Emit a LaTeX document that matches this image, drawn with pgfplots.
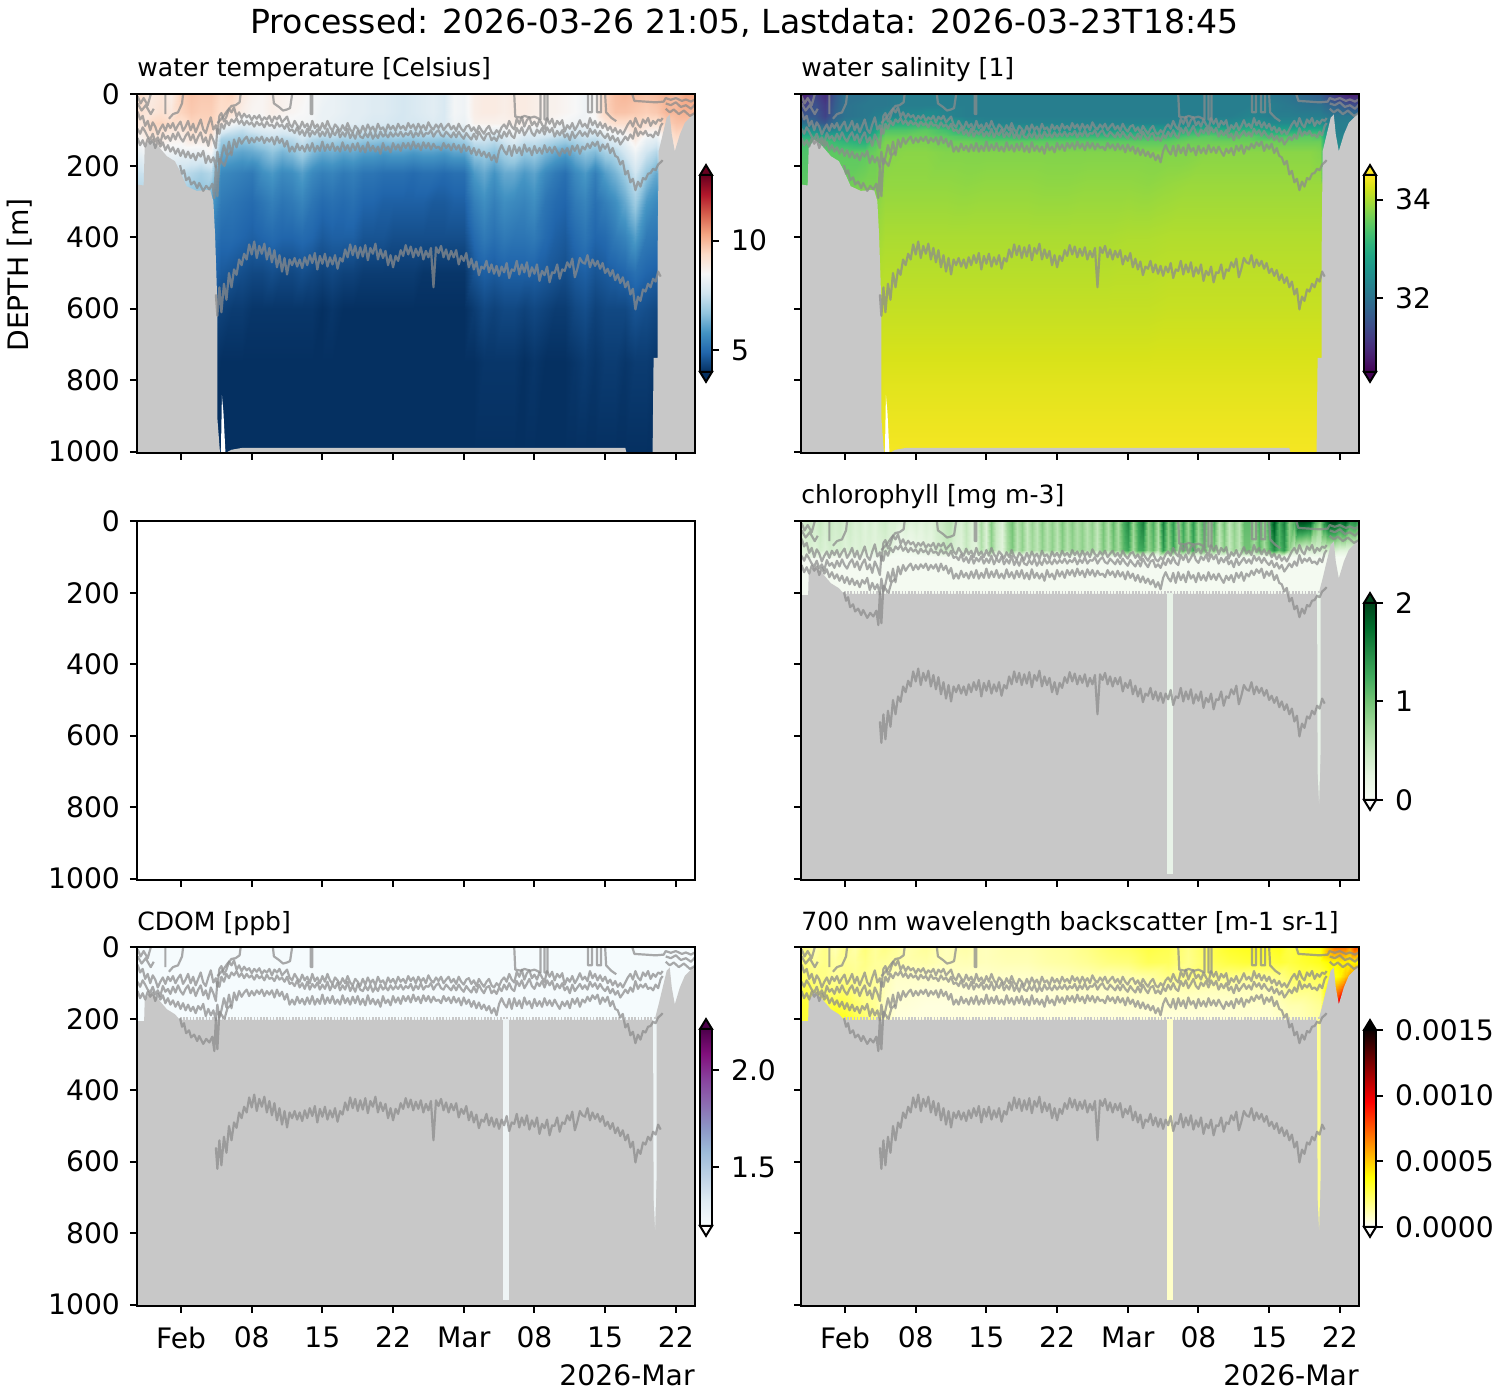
\documentclass[border=0pt]{standalone}
\usepackage{pgfplots}
\usepackage{pgfplotstable}
\usepackage{fontspec}
\setmainfont{DejaVu Sans}
\pgfplotsset{compat=1.18}
\definecolor{mk}{HTML}{C8C8C8}
\pgfplotsset{
 colormap={rdbu}{rgb255=(5,48,97) rgb255=(33,102,172) rgb255=(67,147,195) rgb255=(146,197,222) rgb255=(209,229,240) rgb255=(247,247,247) rgb255=(253,219,199) rgb255=(244,165,130) rgb255=(214,96,77) rgb255=(178,24,43) rgb255=(103,0,31)},
 colormap={grn}{rgb255=(247,252,245) rgb255=(229,245,224) rgb255=(199,233,192) rgb255=(161,217,155) rgb255=(116,196,118) rgb255=(65,171,93) rgb255=(35,139,69) rgb255=(0,109,44) rgb255=(0,68,27)},
 colormap={bupu}{rgb255=(247,252,253) rgb255=(224,236,244) rgb255=(191,211,230) rgb255=(158,188,218) rgb255=(140,150,198) rgb255=(140,107,177) rgb255=(136,65,157) rgb255=(129,15,124) rgb255=(77,0,75)},
 colormap={hotr}{rgb255(0pt)=(255,255,255) rgb255(254pt)=(255,255,0) rgb255(635pt)=(255,0,0) rgb255(1000pt)=(10,0,0)},
}
% ---------- temperature: day, then one column per depth
\pgfplotstableread{
day 0 50 80 100 125 160 220 300 400 500 600 750 1004
-5 9.0 9.0 9.0 8.8 8.6 8.2 7.5 7 6 5 4.5 4 4
-4 9.3 9.2 9.0 8.9 8.6 8.2 7.5 7 6 5 4.5 4 4
-3 8.9 9.0 9.4 9.3 9.0 8.6 7.6 7 6 5 4.5 4 4
-2 9.1 9.2 9.5 9.2 8.9 8.4 7.6 7 6 5 4.5 4 4
-1 8.8 9.0 9.3 9.0 8.7 8.3 7.6 7 6 5 4.5 4 4
0 9.6 9.5 9.2 9.0 8.7 8.2 7.4 6.9 6 5 4.5 4 4
1 9.8 9.7 9.5 9.3 9.0 8.2 7.2 6.5 6 5 4.5 4 4
2 9.7 9.6 9.5 9.2 8.9 8.2 7.0 6.5 6 5 4.5 4 4
3 9.7 9.6 9.5 9.4 9.0 8.5 7.2 6.0 5.4 5.0 4.6 4.1 4
4 9.4 9.3 8.9 8.0 7.0 6.3 5.6 5.3 5.0 4.7 4.3 4.0 4
5 9.5 9.2 8.5 7.6 6.9 6.2 5.5 5.2 5.0 4.6 4.2 4.0 4
6 9.0 8.8 8.2 7.4 6.8 6.1 5.4 5.1 4.9 4.5 4.2 4.0 4
7 8.7 8.6 8.3 7.7 6.9 6.2 5.3 5.0 4.8 4.4 4.1 4 4
8 8.6 8.6 8.4 7.9 7.2 6.4 5.7 5.2 4.9 4.4 4.1 4 4
9 8.8 8.8 8.5 8.0 7.4 6.7 5.9 5.4 5.0 4.5 4.1 4 4
10 8.7 8.7 8.4 7.9 7.2 6.4 5.6 5.2 4.9 4.4 4.1 4 4
11 8.6 8.6 8.4 8.0 7.3 6.6 5.7 5.3 4.9 4.4 4.1 4 4
12 8.6 8.5 8.4 8.1 7.6 7.0 6.0 5.5 5.0 4.5 4.1 4 4
13 8.4 8.4 8.3 7.9 7.2 6.5 5.6 5.2 4.9 4.4 4.1 4 4
14 8.3 8.2 8.2 7.9 7.0 6.2 5.4 5.0 4.7 4.3 4.0 4 4
15 8.2 8.2 8.1 7.8 7.1 6.3 5.5 5.1 4.8 4.4 4.1 4 4
16 8.1 8.1 8.0 7.7 6.9 6.1 5.3 5.0 4.8 4.3 4.0 4 4
17 8.0 8.0 8.0 7.7 7.0 6.2 5.4 5.1 4.8 4.3 4.0 4 4
18 8.0 8.0 7.9 7.6 6.8 6.0 5.2 4.9 4.6 4.2 4.0 4 4
19 7.9 7.9 7.8 7.5 6.8 6.0 5.2 4.9 4.6 4.2 4.0 4 4
20 7.9 7.9 7.8 7.4 6.7 5.9 5.1 4.8 4.6 4.2 4.0 4 4
21 7.8 7.8 7.7 7.4 6.8 6.0 5.1 4.8 4.5 4.2 4.0 4 4
22 7.7 7.7 7.7 7.5 6.7 6.0 5.1 4.8 4.5 4.2 4.0 4 4
23 7.8 7.8 7.7 7.4 6.7 5.9 5.0 4.8 4.5 4.2 4.0 4 4
24 7.9 7.9 7.8 7.5 6.8 6.0 5.1 4.8 4.5 4.1 4.0 4 4
25 8.0 8.0 7.9 7.5 6.8 6.0 5.1 4.7 4.5 4.1 4.0 4 4
26 7.8 7.8 7.8 7.5 6.7 5.9 5.0 4.7 4.5 4.1 4.0 4 4
27 8.4 8.4 8.3 7.8 6.9 6.1 5.1 4.8 4.5 4.1 4.0 4 4
28 8.3 8.3 8.2 7.8 7.0 6.1 5.1 4.8 4.5 4.1 4.0 4 4
29 8.8 8.8 8.7 8.2 7.6 6.8 5.9 5.4 5.0 4.6 4.2 4 4
30 8.9 8.9 8.7 8.3 7.6 6.9 6.2 5.7 5.3 4.8 4.4 4.1 4
31 8.9 8.9 8.7 8.2 7.4 6.6 5.8 5.4 5.1 4.7 4.3 4.1 4
32 8.8 8.8 8.7 8.3 7.7 7.0 6.2 5.7 5.3 4.8 4.4 4.1 4
33 8.9 8.9 8.8 8.5 8.0 7.2 6.2 5.6 5.2 4.8 4.4 4.1 4
34 8.9 8.9 8.7 8.3 7.6 6.8 5.9 5.5 5.2 4.8 4.3 4 4
35 8.8 8.8 8.7 8.2 7.6 6.9 6.1 5.7 5.3 4.8 4.4 4.1 4
36 8.7 8.7 8.6 8.2 7.4 6.5 5.6 5.2 5.0 4.7 4.3 4 4
37 8.7 8.7 8.5 8.1 7.2 6.2 5.3 5.0 4.8 4.6 4.2 4 4
38 8.6 8.6 8.4 7.9 7.0 6.0 5.1 4.9 4.7 4.5 4.2 4 4
39 8.5 8.5 8.3 7.8 7.2 6.4 5.6 5.3 5.0 4.7 4.4 4.1 4
40 8.3 8.3 8.3 7.9 7.4 6.7 5.9 5.5 5.2 4.8 4.5 4.2 4
41 8.6 8.6 8.4 8.0 7.3 6.5 5.4 5.1 4.9 4.6 4.3 4.1 4
42 9.5 9.5 9.0 8.4 7.7 7.0 6.0 5.4 5.0 4.7 4.4 4.2 4
43 9.9 9.8 9.3 8.7 8.0 7.2 6.4 5.7 5.3 4.8 4.4 4.2 4
44 10.0 9.8 9.3 8.8 8.3 7.7 6.9 6.2 5.5 4.9 4.4 4.1 4
45 9.9 9.7 9.4 9.2 8.9 8.3 7.6 6.9 6.0 5.1 4.6 4.2 4
46 9.8 9.6 9.2 8.8 8.2 7.6 6.8 5.9 5.3 4.9 4.5 4.2 4
47 9.9 9.7 9.2 8.7 8.0 7.2 6.2 5.6 5.2 4.8 4.4 4.1 4
48 10.1 10.0 9.6 9.3 9.0 8.5 7 6 5 5 4 4 4
49 9.9 10.0 9.8 9.6 9.3 9.0 8 6 5 5 4 4 4
50 10.3 10.1 9.8 9.5 9 9 8 6 5 5 4 4 4
51 10.2 10.0 9.7 9.4 9 9 8 6 5 5 4 4 4
}\Ttemp
% ---------- salinity
\pgfplotstableread{
day 0 30 60 80 100 115 130 160 250 400 600 800 1004
-5 30.8 31.3 31.6 32.0 32.6 33.0 33.3 33.4 33.5 33.9 34.1 34.3 34.4
-4 30.8 31.3 31.6 32.0 32.6 33.0 33.3 33.4 33.5 33.9 34.1 34.3 34.4
-3 31.3 31.5 31.6 31.8 32.5 33.0 33.3 33.4 33.5 33.9 34.1 34.3 34.4
-2 31.0 31.2 31.3 31.6 32.2 32.9 33.3 33.5 33.6 33.9 34.1 34.3 34.4
-1 31.6 31.7 31.8 32.0 32.4 32.9 33.2 33.5 33.6 33.9 34.1 34.3 34.4
0 32.0 32.0 32.0 32.2 32.5 32.8 33.1 33.5 33.6 33.9 34.1 34.3 34.4
2 32.0 32.1 32.1 32.2 32.4 32.7 33.0 33.5 33.7 33.9 34.1 34.3 34.4
3 32.1 32.1 32.2 32.4 32.8 33.1 33.4 33.6 33.7 33.9 34.1 34.3 34.4
4 32.1 32.1 32.3 32.9 33.4 33.6 33.7 33.75 33.85 34.0 34.15 34.32 34.45
6 32.2 32.2 32.4 33.0 33.4 33.6 33.7 33.8 33.85 34.0 34.15 34.32 34.45
8 32.2 32.2 32.5 33.1 33.5 33.6 33.7 33.8 33.85 34.0 34.15 34.32 34.45
10 32.2 32.2 32.3 32.8 33.3 33.5 33.6 33.75 33.85 34.0 34.15 34.32 34.45
12 32.2 32.2 32.2 32.4 33.0 33.4 33.6 33.75 33.83 34.0 34.15 34.32 34.45
14 32.2 32.2 32.2 32.3 32.8 33.3 33.5 33.75 33.85 34.0 34.15 34.32 34.45
16 32.2 32.2 32.2 32.3 32.7 33.2 33.5 33.75 33.85 34.0 34.15 34.32 34.45
18 32.2 32.2 32.2 32.3 32.6 33.1 33.5 33.75 33.85 34.0 34.15 34.32 34.45
20 32.2 32.2 32.2 32.3 32.7 33.2 33.5 33.75 33.83 34.0 34.15 34.32 34.45
22 32.2 32.2 32.2 32.3 32.6 33.2 33.5 33.75 33.83 34.0 34.15 34.32 34.45
24 32.2 32.2 32.2 32.3 32.7 33.2 33.5 33.75 33.85 34.0 34.15 34.32 34.45
26 32.2 32.2 32.2 32.3 32.7 33.2 33.5 33.75 33.85 34.0 34.15 34.32 34.45
28 32.2 32.2 32.2 32.3 32.8 33.2 33.5 33.75 33.85 34.02 34.15 34.32 34.45
30 32.2 32.2 32.2 32.3 32.8 33.2 33.5 33.75 33.83 34.02 34.15 34.32 34.45
32 32.2 32.2 32.2 32.3 32.7 33.2 33.5 33.75 33.87 34.04 34.17 34.32 34.45
34 32.2 32.2 32.2 32.4 33.0 33.4 33.6 33.75 33.9 34.04 34.17 34.32 34.45
36 32.2 32.2 32.2 32.5 33.1 33.5 33.6 33.8 33.9 34.04 34.17 34.32 34.45
38 32.2 32.2 32.2 32.4 33.0 33.4 33.6 33.8 33.9 34.04 34.17 34.32 34.45
40 32.2 32.2 32.3 32.6 33.1 33.5 33.6 33.8 33.9 34.04 34.17 34.32 34.45
42 32.1 32.2 32.2 32.4 32.9 33.3 33.6 33.8 33.9 34.04 34.17 34.32 34.45
44 32.0 32.1 32.2 32.4 32.9 33.4 33.6 33.8 33.9 34.04 34.17 34.32 34.45
46 31.8 32.0 32.2 32.5 33.0 33.5 33.6 33.8 33.9 34.04 34.17 34.32 34.45
47 31.7 32.0 32.2 32.5 33.0 33.4 33.6 33.75 33.9 34.04 34.17 34.32 34.45
48 31.3 31.8 32.1 32.2 32.3 32.3 32.3 32.3 33.8 34 34.2 34.3 34.4
49 31.0 31.7 32.1 32.2 32.2 32.3 32.4 32.5 33.8 34 34.2 34.3 34.4
50 30.8 31.5 32.1 32.2 32.2 32.3 32.4 32.5 33.8 34 34.2 34.3 34.4
51 30.8 31.4 32.0 32.2 32.2 32.3 32.4 32.5 33.8 34 34.2 34.3 34.4
}\Tsal
% ---------- chlorophyll, top 100 m
\pgfplotstableread{
day 0 80 100
-5 .4 .35 .2
-4.5 .35 .3 .2
-4 .4 .3 .15
-3.5 .45 .35 .2
-3 .4 .3 .15
-2.5 .5 .4 .15
-2 .38 .32 .1
-1.5 .5 .4 .15
-1 .4 .35 .1
-.5 .45 .38 .12
0 .35 .3 .1
.5 .45 .36 .1
1 .35 .3 .1
1.5 .4 .35 .1
2 .3 .3 .08
2.5 .38 .32 .1
3 .3 .28 .1
3.5 .4 .3 .1
4 .45 .35 .04
4.5 .35 .3 .04
5 .35 .1 .04
5.5 .3 .08 .04
6 .38 .1 .04
6.5 .3 .12 .04
7 .35 .2 .04
7.5 .28 .2 .04
8 .35 .25 .04
8.5 .3 .24 .04
9 .4 .35 .05
9.5 .45 .4 .05
10 .55 .5 .05
10.5 .6 .4 .04
11 .4 .32 .04
11.5 .35 .3 .04
12 .55 .5 .04
12.5 .35 .32 .04
13 .3 .28 .04
13.5 .7 .65 .05
14 .35 .32 .04
14.5 .9 .85 .05
15 .5 .45 .04
15.5 .3 .28 .04
16 .75 .7 .05
16.5 1.0 .95 .05
17 .6 .55 .05
17.5 .85 .85 .05
18 .5 .5 .04
18.5 .8 .75 .05
19 .55 .55 .04
19.5 .9 .85 .05
20 .6 .6 .05
20.5 .85 .85 .05
21 .6 .55 .04
21.5 .95 .9 .05
22 .65 .6 .05
22.5 .9 .85 .05
23 .65 .65 .05
23.5 .85 .85 .05
24 .6 .6 .04
24.5 .85 .8 .05
25 .55 .5 .04
25.5 1.0 .95 .05
26 .65 .6 .05
26.5 1.1 1.0 .05
27 .7 .7 .05
27.5 1.2 1.1 .05
28 1.5 1.3 .06
28.5 .8 .7 .05
29 1.3 1.2 .05
29.5 1.6 1.3 .05
30 .85 .8 .05
30.5 1.2 1.1 .05
31 .7 .6 .05
31.5 1.6 1.4 .06
32 .9 .8 .05
32.5 1.4 1.3 .05
33 .75 .7 .05
33.5 1.3 1.2 .06
34 .8 .8 .06
34.5 1.4 1.3 .06
35 .8 .7 .05
35.5 1.3 1.1 .05
36 .7 .6 .05
36.5 1.2 1.0 .05
37 .6 .5 .05
37.5 1.0 .9 .05
38 .55 .5 .05
38.5 .85 .8 .05
39 .6 .55 .04
39.5 1.1 1.0 .05
40 1.1 1.0 .05
40.5 .8 .7 .05
41 1.2 1.1 .05
41.5 .8 .7 .05
42 1.3 1.1 .05
42.5 1.9 1.5 .05
43 1.2 1.1 .05
43.5 1.6 1.4 .05
44 .9 .8 .05
44.5 1.2 .5 .04
45 2.0 .4 .04
45.5 2.0 .3 .04
46 1.9 .4 .04
46.5 1.2 .4 .04
47 .9 .4 .04
47.5 1.6 .4 .04
48 2.0 .4 .04
48.5 2.0 .4 .04
49 1.7 .3 .04
49.5 1.9 .3 .04
50 1.4 .3 .04
50.5 1.5 .3 .04
51 1.2 .3 .04
}\Tchl
% ---------- backscatter
\pgfplotstableread{
day 0 40 80 120 160 205
-5 .00017 .0002 .00026 .0003 .0003 .0003
-4 .00018 .0002 .00022 .00028 .0003 .0003
-3 .00012 .00015 .00018 .00022 .00025 .0003
-2 .00018 .00018 .00018 .00022 .00028 .0003
-1 .00011 .00014 .00015 .0002 .0003 .00035
0 .00018 .00016 .00018 .00022 .00028 .00035
1 .00013 .00015 .00016 .00018 .00022 .00028
2 .0002 .00018 .00016 .00016 .00018 .00022
3 .00015 .00015 .00015 .00015 .00016 .00018
4 .00018 .00015 .00011 .0001 .00008 .0001
5 .00015 .00014 .00008 .00007 .00006 .00005
6 .00012 .00012 .00008 .00007 .00006 .00005
8 .00015 .00013 .00008 .00006 .00005 .00005
10 .0001 .0001 .00008 .00006 .00005 .00005
12 .00013 .00011 .00008 .00006 .00005 .00005
14 .0001 .0001 .00008 .00006 .00005 .00005
16 .00012 .00011 .00008 .00006 .00005 .00005
18 .00012 .00011 .00008 .00006 .00005 .00005
20 .00014 .00013 .00009 .00006 .00005 .00005
22 .00015 .00014 .0001 .00008 .00006 .00005
24 .00018 .00016 .00011 .00008 .00006 .00005
26 .00022 .00019 .00011 .00008 .00006 .00005
28 .00024 .0002 .00012 .00009 .00007 .00005
30 .00028 .00025 .00014 .00009 .00007 .00005
32 .00026 .00024 .00018 .0001 .00007 .00005
34 .00018 .00017 .00018 .00011 .00007 .00005
36 .00026 .00024 .00018 .0001 .00007 .00005
38 .00032 .00028 .00018 .0001 .00007 .00006
40 .00034 .0003 .00016 .0001 .00008 .00006
42 .00032 .00028 .00016 .0001 .00008 .00006
43 .00034 .0003 .00018 .00012 .0001 .00007
44 .00028 .00028 .00022 .00016 .00012 .00009
45 .0003 .0003 .00025 .00018 .00012 .0001
46 .00035 .00032 .00024 .00018 .00014 .00012
47 .00036 .00034 .00026 .0002 .00016 .00014
48 .0006 .0004 .00035 .0005 .0007 .0010
48.5 .0007 .00038 .00035 .0006 .0009 .0012
49 .0007 .00042 .0004 .0007 .0012 .0014
49.5 .0007 .00042 .0005 .0009 .0012 .0012
50 .0006 .0004 .0006 .0012 .0014 .0014
50.5 .0008 .0004 .0007 .0011 .0012 .0012
51 .0007 .00035 .0006 .0009 .001 .001
}\Tbs
% ---------- density contours
\pgfplotstableread{
d a b c e
-4.3 48 96 122 nan
-4.05 70 110 142 nan
-3.8 60 92 128 nan
-3.55 88 104 146 nan
-3.3 74 118 124 nan
-3.05 100 126 138 nan
-2.8 78 110 126 nan
-2.55 90 132 150 nan
-2.3 112 120 130 nan
-2.05 96 136 146 nan
-1.8 84 108 134 nan
-1.55 102 124 156 nan
-1.3 82 116 142 nan
-1.05 94 130 160 nan
-.8 80 110 148 nan
-.55 100 126 166 nan
-.3 86 106 152 nan
-.05 76 122 172 nan
.2 102 132 156 nan
.45 90 116 176 nan
.7 74 106 160 nan
.95 100 128 178 nan
1.2 82 112 166 nan
1.45 106 136 184 nan
1.7 88 118 164 nan
1.95 70 106 174 nan
2.2 98 134 158 nan
2.45 108 120 192 nan
2.7 84 144 172 nan
2.95 64 112 190 nan
3.2 98 128 176 nan
3.45 86 150 204 560
3.6 110 96 160 620
3.8 60 110 196 540
4 52 82 176 610
4.25 76 96 142 530
4.5 62 74 168 575
4.75 40 86 132 500
5 50 70 170 540
5.25 36 78 126 490
5.5 62 66 148 505
5.75 50 82 122 462
6 66 72 138 478
6.25 54 86 126 446
6.5 64 74 118 462
6.75 58 84 136 420
7 72 78 122 448
7.25 60 90 134 412
7.5 68 76 120 458
7.75 58 86 130 424
8 74 80 118 446
8.25 64 92 136 418
8.5 70 76 122 462
8.75 60 88 132 430
9 78 84 120 470
9.25 62 94 140 436
9.5 70 78 118 484
9.75 60 90 136 450
10 78 84 124 496
10.25 70 96 146 458
10.5 62 82 130 504
10.75 84 102 160 462
11 92 98 146 478
11.25 74 108 160 458
11.5 86 92 138 482
11.75 96 112 156 462
12 76 100 144 486
12.25 92 116 160 456
12.5 82 96 140 478
12.75 100 118 158 450
13 74 102 136 472
13.25 94 112 160 444
13.5 84 98 144 490
13.75 100 118 158 452
14 80 104 132 474
14.25 96 116 158 446
14.5 74 96 140 482
14.75 92 120 156 456
15 102 104 136 476
15.25 84 114 158 450
15.5 92 98 146 488
15.75 104 120 160 458
16 86 106 134 468
16.25 100 118 156 434
16.5 80 96 142 456
16.75 98 122 160 420
17 106 108 138 450
17.25 88 124 156 424
17.5 96 102 136 458
17.75 108 118 160 428
18 88 122 144 454
18.25 104 108 162 422
18.5 84 120 134 464
18.75 100 104 158 430
19 90 124 144 446
19.25 106 110 160 418
19.5 82 122 146 462
19.75 98 104 166 434
20 92 118 136 458
20.25 106 110 156 438
20.5 84 120 146 478
20.75 98 106 162 450
21 88 118 136 484
21.25 102 108 154 452
21.5 82 116 140 466
21.75 96 104 158 436
22 88 118 136 452
22.25 100 108 150 422
22.5 80 114 136 448
22.75 94 102 154 426
23 84 120 132 456
23.25 100 106 150 432
23.5 82 116 138 452
23.75 96 100 156 428
24 86 118 134 462
24.25 100 108 150 438
24.5 78 110 136 456
24.75 92 100 154 430
25 98 118 138 540
25.25 84 106 150 428
25.5 94 100 146 444
25.75 82 114 156 424
26 100 118 136 456
26.25 90 104 150 434
26.5 82 112 140 462
26.75 98 120 156 438
27 88 106 138 456
27.25 102 120 154 436
27.5 82 104 142 476
27.75 96 116 162 452
28 104 124 140 466
28.25 90 108 158 444
28.5 86 118 146 484
28.75 102 126 166 460
29 92 110 150 490
29.25 108 126 170 468
29.5 88 104 154 506
29.75 100 118 172 482
30 110 128 160 488
30.25 96 112 176 466
30.5 88 108 164 498
30.75 106 128 184 476
31 112 120 170 502
31.25 100 130 190 480
31.5 108 112 158 508
31.75 92 122 142 482
32 84 104 158 498
32.25 96 118 168 472
32.5 74 100 144 514
32.75 90 116 172 490
33 98 122 142 494
33.25 68 94 164 466
33.5 82 108 148 504
33.75 62 92 170 476
34 90 114 140 498
34.25 72 102 160 470
34.5 64 88 150 510
34.75 86 108 170 484
35 76 116 144 502
35.25 90 98 164 476
35.5 70 108 150 522
35.75 84 94 166 494
36 96 112 142 506
36.25 66 92 162 482
36.5 82 106 148 526
36.75 68 94 164 498
37 92 118 146 500
37.25 74 102 160 476
37.5 84 114 172 516
37.75 72 100 152 490
38 104 120 164 494
38.25 86 110 150 470
38.5 96 128 170 484
38.75 80 104 144 460
39 100 122 158 512
39.25 88 112 142 488
39.5 72 102 166 458
39.75 90 116 146 470
40 82 106 154 474
40.25 94 118 138 450
40.5 66 96 150 484
40.75 86 110 134 462
41 74 100 144 480
41.25 92 116 132 466
41.5 78 102 158 488
41.75 94 114 140 472
42 82 122 152 500
42.25 100 110 138 488
42.5 90 128 164 508
42.75 106 116 150 492
43 94 132 172 520
43.25 110 122 176 504
43.5 100 140 196 528
43.75 112 130 186 512
44 98 118 224 540
44.25 84 128 214 524
44.5 74 112 246 560
44.75 90 124 236 544
45 66 94 268 602
45.25 84 116 244 566
45.5 92 104 258 578
45.75 70 112 234 546
46 80 102 238 552
46.25 66 116 222 530
46.5 88 112 220 540
46.75 74 120 208 516
47 82 104 212 524
47.25 70 114 196 496
47.5 74 88 190 510
47.7 66 80 184 nan
}\Tiso
\pgfplotstableread{
d v
-4.3 5
-4 25
-3.7 10
-3.3 30
-3 0
nan nan
-4.3 25
-3.9 45
-3.5 30
-3 55
-2.7 40
nan nan
-1.55 0
-1.55 55
nan nan
-1.2 68
-.8 55
-.3 50
.1 25
.2 0
nan nan
3.6 80
4.1 65
4.6 45
5 32
5.4 30
5.8 22
5.9 0
nan nan
9.1 0
9.2 25
9.7 35
10.1 45
10.5 42
10.8 38
11 0
nan nan
12.85 0
12.85 55
13 55
13 0
nan nan
33 0
33.1 62
33.7 65
34 60
34.6 65
35 62
35.6 70
35.6 0
nan nan
36 0
36 70
36.3 70
36.3 0
nan nan
40.3 0
40.3 50
40.7 50
40.7 0
nan nan
41.2 0
41.2 50
41.6 50
41.6 0
nan nan
42 0
42.1 50
42.6 65
43.1 75
nan nan
44.7 0
44.9 18
46 20
47 22
47.8 20
48 10
48.5 15
49 10
49.6 18
50 14
50.5 20
51 12
nan nan
48 25
48.5 30
49 22
49.5 35
50 30
50.5 40
51 25
nan nan
48 40
48.4 50
48.8 42
49.3 55
49.8 45
50.4 60
51 50
nan nan
-.1 198
.1 222
.3 212
.5 240
.8 232
1 252
1.3 244
1.6 262
1.8 248
2.2 270
2.5 256
2.8 266
3.1 250
3.3 290
3.45 200
3.6 285
3.8 180
4.3 200
4.6 170
5 160
}\Ttop
% ---------- masks
\pgfplotstableread{
d v
-5 1010
-4.4 252
-3.7 255
-3.6 150
-3.07 126
-2.4 140
-1.4 173
-.6 187
-.1 215
.56 257
1.55 270
2.87 267
3.2 299
3.37 392
3.6 589
3.6 907
3.86 1004
4.4 1004
5 995
6 990
44 990
44.1 1002
46.7 1004
46.8 738
47.2 738
47.2 440
47.3 159
48.1 65
48.4 56
48.6 112
48.9 159
49.4 112
49.9 79
50.7 56
51 50
51 1010
}\Mdeep
\pgfplotstableread{
d v
-5 1010
-4.4 252
-3.7 255
-3.6 150
-3.07 126
-2.4 140
-1.4 173
-.6 187
-.1 203
46.9 203
47.3 159
48.1 65
48.4 56
48.6 112
48.9 159
49.4 112
49.9 79
50.7 56
51 50
51 1010
}\Mtop
\newcommand\gridcoords[2]{%
 \pgfplotstablegetrowsof{#1}\pgfmathtruncatemacro\nr{\pgfplotsretval-1}%
 \pgfplotstablegetcolsof{#1}\pgfmathtruncatemacro\nc{\pgfplotsretval-1}%
 \gdef#2{}%
 \foreach \r in {0,...,\nr}{%
   \pgfplotstablegetelem{\r}{[index]0}\of{#1}\let\xx\pgfplotsretval
   \foreach \c in {1,...,\nc}{%
     \pgfplotstablegetcolumnnamebyindex{\c}\of{#1}\to\cn
     \pgfplotstablegetelem{\r}{[index]\c}\of{#1}%
     \xdef#2{#2 (\xx,\cn) [\pgfplotsretval]}%
   }}}
\gridcoords{\Ttemp}{\Ctemp}
\gridcoords{\Tsal}{\Csal}
\gridcoords{\Tchl}{\Cchl}
\gridcoords{\Tbs}{\Cbs}
\newcommand\heat[2]{\edef\tmp{\noexpand\addplot[hm,mesh/rows=#2] coordinates {#1};}\tmp}
\newcommand\iso{%
 \addplot[iso] table[x=d,y=a]{\Tiso};
 \addplot[iso] table[x=d,y=b]{\Tiso};
 \addplot[iso] table[x=d,y=c]{\Tiso};
 \addplot[iso] table[x=d,y=e]{\Tiso};
 \addplot[iso] table[x=d,y=v]{\Ttop};
}
\newcommand\comb{\addplot[draw=mk,line width=2pt,dash pattern=on .8pt off .8pt] coordinates {(-.1,201) (46.9,201)};}
\newcommand\mask[1]{\addplot[fill=mk,draw=none] table[x=d,y=v]{#1} --cycle;}
\newcommand\stripes[2]{%
 \addplot[fill=#1,draw=none] coordinates {(31.85,200) (32.45,200) (32.45,987) (31.85,987)} --cycle;
 \addplot[fill=#2,draw=none] coordinates {(46.75,200) (47.1,200) (47.1,640) (46.95,790) (46.8,700)} --cycle;
}
\def\tkf{\fontsize{14.1}{15}\selectfont}
\pgfplotsset{
 hm/.style={surf,shader=interp,point meta=explicit,mesh/ordering=y varies},
 iso/.style={color=black!45,opacity=.74,line width=1.1pt,line join=round,unbounded coords=jump},
 base/.style={scale only axis,axis on top,enlargelimits=false,tick align=outside,
   major tick length=3.5pt,axis line style={line width=1pt},tick style={line width=1pt,black},
   tick label style={font=\tkf},
   minor tick num=0},
 pan/.style={base,width=279pt,height=179.25pt,xmin=-4.36,xmax=50.9,ymin=0,ymax=1004,y dir=reverse,
   xtick={0,7,14,21,28,35,42,49},ytick={0,200,400,600,800,1000},xtick pos=bottom,ytick pos=left,
   xticklabels={},yticklabels={},axis background/.style={fill=mk},
   xticklabel style={yshift=-3.5pt},yticklabel style={xshift=-1.5pt}},
 xl/.style={xticklabels={Feb,08,15,22,Mar,08,15,22}},
 yl/.style={yticklabels={0,200,400,600,800,1000}},
 cb/.style={base,width=6pt,xmin=0,xmax=1,xtick=\empty,ytick pos=right,yticklabel pos=right,
   yticklabel style={xshift=2.5pt},clip=false,height=98.5pt},
}
\newcommand\cbbody[4]{% vmin vmax topcolour bottomcolour
 \addplot[surf,shader=interp,point meta=y,mesh/rows=2,mesh/cols=2] coordinates {(0,#1) (1,#1) (0,#2) (1,#2)};
 \draw[fill=#3,line width=1pt] (rel axis cs:0,1) -- (rel axis cs:.5,1.05) -- (rel axis cs:1,1) -- cycle;
 \draw[fill=#4,line width=1pt] (rel axis cs:0,0) -- (rel axis cs:.5,-.05) -- (rel axis cs:1,0) -- cycle;
}
\definecolor{ct}{RGB}{103,0,31}\definecolor{cb}{RGB}{5,48,97}
\definecolor{vt}{RGB}{253,231,37}\definecolor{vb}{RGB}{68,1,84}
\definecolor{gt}{RGB}{0,68,27}\definecolor{bt}{RGB}{77,0,75}
\definecolor{cdomc}{HTML}{F5FBFD}\definecolor{cdoms}{HTML}{EEF4F5}
\definecolor{chlp}{HTML}{F4FAF1}\definecolor{chls}{HTML}{E8F3E8}
\definecolor{bsp}{HTML}{FFFFC8}\definecolor{bss}{HTML}{FFFF90}
\begin{document}
\begin{tikzpicture}
\path[use as bounding box] (0,0) rectangle (750pt,700pt);
\def\tf{\fontsize{12.54}{13}\selectfont}
\tikzset{ttl/.style={anchor=base west,font=\tf,inner sep=0pt}}
\node[anchor=base,inner sep=0pt,font=\fontsize{16.55}{17}\selectfont] at (372.3pt,683pt) {Processed: 2026-03-26 21:05, Lastdata: 2026-03-23T18:45};
% row 1 left
\begin{axis}[pan,yl,at={(68.5pt,473.5pt)},colormap name=rdbu,point meta min=4,point meta max=13]
\heat{\Ctemp}{13}
\mask{\Mdeep}
\addplot[fill=white,draw=none] coordinates {(3.95,1004) (4.05,842) (4.2,890) (4.4,1004)} --cycle;
\iso
\end{axis}
\node[ttl] at (68.5pt,661.5pt) {water temperature [Celsius]};
\node[rotate=90,font=\tkf,inner sep=0pt] at (10pt,562.5pt) {DEPTH [m]};
\begin{axis}[cb,at={(350pt,514pt)},colormap name=rdbu,ymin=4,ymax=13,point meta min=4,point meta max=13,ytick={5,10},yticklabels={5,10}]
\cbbody{4}{13}{ct}{cb}
\end{axis}
% row 1 right
\begin{axis}[pan,at={(400.5pt,473.5pt)},colormap/viridis,point meta min=30.5,point meta max=34.5]
\heat{\Csal}{13}
\mask{\Mdeep}
\addplot[fill=white,draw=none] coordinates {(3.95,1004) (4.05,842) (4.2,890) (4.4,1004)} --cycle;
\iso
\end{axis}
\node[ttl] at (400.5pt,661.5pt) {water salinity [1]};
\begin{axis}[cb,at={(682pt,514pt)},colormap/viridis,ymin=30.5,ymax=34.5,point meta min=30.5,point meta max=34.5,ytick={32,34},yticklabels={32,34}]
\cbbody{30.5}{34.5}{vt}{vb}
\end{axis}
% row 2 left (no data)
\begin{axis}[pan,yl,at={(68.5pt,260pt)},axis background/.style={fill=white}]
\end{axis}
% row 2 right
\begin{axis}[pan,at={(400.5pt,260pt)},colormap name=grn,point meta min=0,point meta max=2]
\addplot[fill=chlp,draw=none] coordinates {(-5,60) (51,60) (51,206) (-5,206)} --cycle;
\heat{\Cchl}{3}
\mask{\Mtop}
\comb
\stripes{chls}{chls}
\iso
\end{axis}
\node[ttl] at (400.5pt,448pt) {chlorophyll [mg m-3]};
\begin{axis}[cb,at={(682pt,300pt)},colormap name=grn,ymin=0,ymax=2,point meta min=0,point meta max=2,ytick={0,1,2},yticklabels={0,1,2}]
\cbbody{0}{2}{gt}{white}
\end{axis}
% row 3 left
\begin{axis}[pan,yl,xl,at={(68.5pt,47pt)}]
\addplot[fill=cdomc,draw=none] coordinates {(-5,0) (51,0) (51,206) (-5,206)} --cycle;
\mask{\Mtop}
\comb
\stripes{cdoms}{cdoms}
\iso
\end{axis}
\node[ttl] at (68.5pt,234.5pt) {CDOM [ppb]};
\node[anchor=base east,font=\tkf,inner sep=0pt] at (347.5pt,7pt) {2026-Mar};
\begin{axis}[cb,at={(350pt,87pt)},colormap name=bupu,ymin=1.2,ymax=2.21,point meta min=1.2,point meta max=2.21,ytick={1.5,2},yticklabels={1.5,2.0}]
\cbbody{1.2}{2.21}{bt}{white}
\end{axis}
% row 3 right
\begin{axis}[pan,xl,at={(400.5pt,47pt)},colormap name=hotr,point meta min=0,point meta max=.0015]
\heat{\Cbs}{6}
\mask{\Mtop}
\comb
\stripes{bsp}{bss}
\iso
\end{axis}
\node[ttl] at (400.5pt,234.5pt) {700 nm wavelength backscatter [m-1 sr-1]};
\node[anchor=base east,font=\tkf,inner sep=0pt] at (679.5pt,7pt) {2026-Mar};
\begin{axis}[cb,at={(682pt,86.5pt)},colormap name=hotr,ymin=0,ymax=.0015,point meta min=0,point meta max=.0015,ytick={0,.0005,.001,.0015},yticklabels={0.0000,0.0005,0.0010,0.0015},scaled y ticks=false]
\cbbody{0}{.0015}{black}{white}
\end{axis}
\end{tikzpicture}
\end{document}
